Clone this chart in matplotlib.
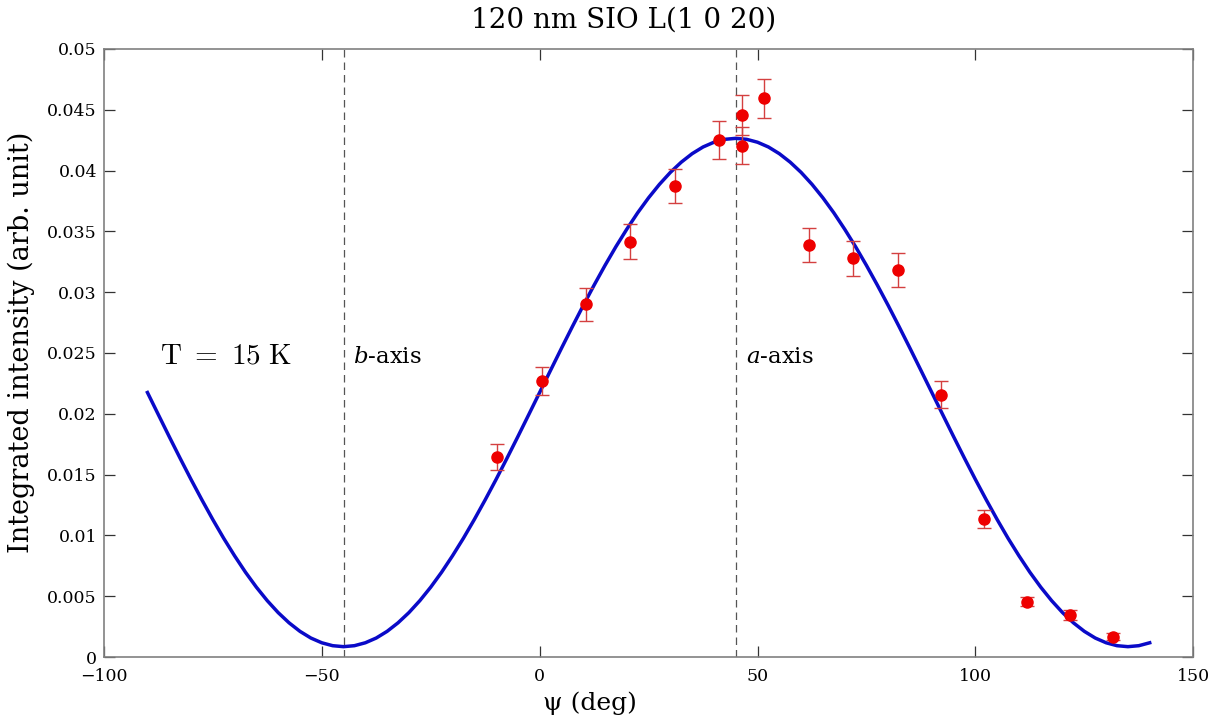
import matplotlib
matplotlib.use("Agg")
import matplotlib.pyplot as plt
import numpy as np

# Measured data (psi in deg, integrated intensity, error)
psi = [-9.8, 0.5, 10.6, 20.7, 31.0, 41.1, 46.4, 46.4, 51.5, 61.8, 72.0, 82.2, 92.0, 101.9, 111.9, 121.8, 131.6]
intensity = [0.01645, 0.0227, 0.0290, 0.03415, 0.03876, 0.04252, 0.04457, 0.04205, 0.04595,
             0.03388, 0.03279, 0.03183, 0.02157, 0.01135, 0.00455, 0.00345, 0.00167]
err = [0.00107, 0.00117, 0.00138, 0.00145, 0.0014, 0.00155, 0.00168, 0.00155, 0.00162,
       0.00142, 0.00142, 0.00137, 0.0011, 0.00077, 0.00038, 0.00044, 0.00027]

# Fit curve every 2.5 deg, from -90 to 140
fit_psi = np.arange(-90, 140.01, 2.5)
fit_val = [
    # -90 .. -45
    0.02175, 0.01993, 0.01812, 0.01634, 0.01460, 0.01292, 0.01130, 0.00976, 0.00832, 0.00697,
    0.00574, 0.00463, 0.00365, 0.00281, 0.00211, 0.00156, 0.00117, 0.00093, 0.00085,
    # -42.5 .. 45
    0.00093, 0.00117, 0.00156, 0.00211, 0.00281, 0.00365, 0.00463, 0.00574, 0.00697, 0.00832,
    0.00976, 0.01130, 0.01292, 0.01460, 0.01634, 0.01812, 0.01993, 0.02175, 0.02357, 0.02538,
    0.02716, 0.02890, 0.03058, 0.03220, 0.03374, 0.03518, 0.03653, 0.03776, 0.03887, 0.03985,
    0.04069, 0.04139, 0.04194, 0.04233, 0.04257, 0.04265,
    # 47.5 .. 135
    0.04257, 0.04233, 0.04194, 0.04139, 0.04069, 0.03985, 0.03887, 0.03776, 0.03653, 0.03518,
    0.03374, 0.03220, 0.03058, 0.02890, 0.02716, 0.02538, 0.02357, 0.02175, 0.01993, 0.01812,
    0.01634, 0.01460, 0.01292, 0.01130, 0.00976, 0.00832, 0.00697, 0.00574, 0.00463, 0.00365,
    0.00281, 0.00211, 0.00156, 0.00117, 0.00093, 0.00085,
    # 137.5, 140
    0.00093, 0.00117,
]

axis_lines = [-45, 45]
xticks = [-100, -50, 0, 50, 100, 150]
yticks = [0, 0.005, 0.01, 0.015, 0.02, 0.025, 0.03, 0.035, 0.04, 0.045, 0.05]
ytick_labels = ["0", "0.005", "0.01", "0.015", "0.02", "0.025", "0.03", "0.035", "0.04", "0.045", "0.05"]

plt.rcParams['mathtext.fontset'] = 'cm'

fig = plt.figure(figsize=(12.22, 7.2), dpi=100)
ax = fig.add_axes([0.085, 0.0875, 0.8915, 0.8445])

for xv in axis_lines:
    ax.axvline(xv, color='#555555', lw=0.9, ls=(0, (6, 4)), zorder=1)

ax.plot(fit_psi, fit_val, color='#0a0ac8', lw=2.5, zorder=2)
ax.errorbar(psi, intensity, yerr=err, fmt='o', color='#ee0000', ms=8,
            ecolor='#d44040', elinewidth=1.0, capsize=5, capthick=1.0, zorder=3)

ax.set_xlim(-100, 150)
ax.set_ylim(0, 0.05)
ax.set_xticks(xticks)
ax.set_yticks(yticks)
ax.set_yticklabels(ytick_labels)
for lbl in ax.get_xticklabels() + ax.get_yticklabels():
    lbl.set_family('DejaVu Serif')
    lbl.set_fontsize(12.5)
ax.tick_params(direction='in', length=8, width=0.9, color='#333333', top=True, right=True)
ax.tick_params(axis='x', pad=8)
ax.tick_params(axis='y', pad=5)
for s in ax.spines.values():
    s.set_color('#808080')
    s.set_linewidth(1.2)

fig.text(624 / 1222, 1 - 20 / 720, "120 nm SIO L(1 0 20)", family='DejaVu Serif', fontsize=20,
         ha='center', va='center')
fig.text(590 / 1222, 1 - 703 / 720, "ψ (deg)", family='DejaVu Serif', fontsize=18,
         ha='center', va='center')
ax.set_ylabel("Integrated intensity (arb. unit)", family='DejaVu Serif', fontsize=19.5)
ax.yaxis.set_label_coords(-0.063, 0.518)

ax.text(-87.2, 0.0248, r'$\mathrm{T\ =\ 15\ K}$', fontsize=21, va='center', ha='left')
ax.text(-42.8, 0.0247, r'$b$-axis', family='DejaVu Serif', fontsize=16.5, va='center', ha='left',
        math_fontfamily='dejavuserif')
ax.text(47.3, 0.0247, r'$a$-axis', family='DejaVu Serif', fontsize=16.5, va='center', ha='left',
        math_fontfamily='dejavuserif')

fig.savefig("out.png", dpi=100)
